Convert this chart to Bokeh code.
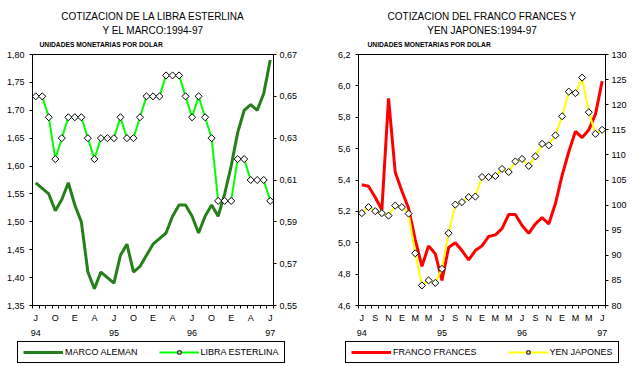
from bokeh.plotting import figure
from bokeh.models import (Range1d, LinearAxis, FixedTicker, CustomJSTickFormatter,
                          Legend, LegendItem, Title)
from bokeh.layouts import row, column
from bokeh.embed import file_html
from bokeh.resources import INLINE
import math

FONT = "Liberation Sans"

# ---- data (monthly, Jul-1994 .. Jul-1997) ----
month_idx = list(range(37))

marco = [1.57, 1.56, 1.55, 1.52, 1.54, 1.57, 1.53, 1.50, 1.41, 1.38,
         1.41, 1.40, 1.39, 1.44, 1.46, 1.41, 1.42, 1.44, 1.46, 1.47,
         1.48, 1.51, 1.53, 1.53, 1.51, 1.48, 1.51, 1.53, 1.51, 1.55,
         1.60, 1.66, 1.70, 1.71, 1.70, 1.73, 1.79]
libra = [0.65, 0.65, 0.64, 0.62, 0.63, 0.64, 0.64, 0.64, 0.63, 0.62,
         0.63, 0.63, 0.63, 0.64, 0.63, 0.63, 0.64, 0.65, 0.65, 0.65,
         0.66, 0.66, 0.66, 0.65, 0.64, 0.65, 0.64, 0.63, 0.60, 0.60,
         0.60, 0.62, 0.62, 0.61, 0.61, 0.61, 0.60]
franco = [5.37, 5.36, 5.29, 5.21, 5.92, 5.45, 5.33, 5.22, 5.02, 4.85,
          4.98, 4.93, 4.76, 4.97, 5.00, 4.95, 4.89, 4.95, 4.98, 5.04,
          5.05, 5.09, 5.18, 5.18, 5.11, 5.06, 5.12, 5.16, 5.12, 5.25,
          5.43, 5.58, 5.71, 5.67, 5.72, 5.82, 6.03]
yen = [98.4, 99.6, 98.8, 98.4, 97.9, 99.9, 99.6, 98.3, 90.4, 84.0,
       85.0, 84.5, 87.3, 94.4, 100.1, 100.6, 101.6, 101.7, 105.6, 105.6,
       105.8, 107.2, 106.6, 108.7, 109.2, 107.8, 109.7, 112.2, 111.9, 113.9,
       117.7, 122.6, 122.3, 125.4, 118.5, 114.2, 115.0]

left_month_labels = ["J", "O", "E", "A", "J", "O", "E", "A", "J", "O", "E", "A", "J"]
right_month_labels = ["J", "S", "N", "E", "M", "M", "J", "S", "N", "E", "M", "M",
                      "J", "S", "N", "E", "M", "M", "J"]
year_labels = ["94", "95", "96", "97"]

left_main_ticks = [1.35, 1.40, 1.45, 1.50, 1.55, 1.60, 1.65, 1.70, 1.75, 1.80]
left_sec_ticks = [0.55, 0.57, 0.59, 0.61, 0.63, 0.65, 0.67]
right_main_ticks = [4.6, 4.8, 5.0, 5.2, 5.4, 5.6, 5.8, 6.0, 6.2]
right_sec_ticks = [80, 85, 90, 95, 100, 105, 110, 115, 120, 125, 130]

subtitle = "UNIDADES MONETARIAS POR DOLAR"

MARCO_C, LIBRA_C, FRANCO_C, YEN_C = "#267f1a", "#00ff00", "#ff0000", "#ffff00"


def style_axis(ax, standoff):
    ax.axis_line_color = "black"
    ax.axis_line_width = 1
    ax.major_tick_line_color = "black"
    ax.minor_tick_line_color = "black"
    ax.major_label_text_font = FONT
    ax.major_label_text_font_size = "9px"
    ax.major_label_text_color = "black"
    ax.major_label_standoff = standoff


def add_series(p, s1, s2, c1, c2, sec=True):
    kw = dict(y_range_name="sec") if sec else {}
    r1 = p.line(month_idx, s1, line_color=c1, line_width=3)
    r2 = p.line(month_idx, s2, line_color=c2, line_width=2, **kw)
    r3 = p.scatter(month_idx, s2, marker="square", angle=math.pi / 4,
                   size=5, fill_color="white", line_color="black", line_width=1, **kw)
    return r1, r2, r3


def build(t1, t2, sub_offset, width, b_left, b_right, main_ticks, sec_ticks, dec1, dec2,
          month_labels, month_step, s1, s2, c1, c2, left_standoff):
    p = figure(width=width, height=340, output_backend="svg", toolbar_location=None,
               title_location=None, x_axis_type=None, y_axis_type=None,
               x_range=Range1d(-0.5, 36.5),
               y_range=Range1d(main_ticks[0], main_ticks[-1]),
               min_border_left=b_left, min_border_right=b_right,
               min_border_top=54, min_border_bottom=35)
    p.extra_y_ranges = {"sec": Range1d(sec_ticks[0], sec_ticks[-1])}
    p.outline_line_color = "black"
    p.outline_line_width = 1
    p.background_fill_color = "white"
    p.border_fill_color = "white"

    # titles (added from the frame outward); first one is a small spacer
    p.add_layout(Title(text=" ", text_font=FONT, text_font_size="3px", standoff=0), "above")
    p.add_layout(Title(text=subtitle, align="left", offset=sub_offset,
                       text_font=FONT, text_font_size="6.7px", text_font_style="bold",
                       text_color="black", standoff=4), "above")
    p.add_layout(Title(text=t2, align="center", text_font=FONT, text_font_size="10px",
                       text_font_style="normal", text_color="black", standoff=2), "above")
    p.add_layout(Title(text=t1, align="center", text_font=FONT, text_font_size="10px",
                       text_font_style="normal", text_color="black", standoff=0), "above")

    # y axes
    yl = LinearAxis(ticker=FixedTicker(ticks=main_ticks, minor_ticks=[]),
                    formatter=CustomJSTickFormatter(args=dict(d=dec1),
                                                    code="return tick.toFixed(d).replace('.', ',');"))
    style_axis(yl, left_standoff)
    yl.major_tick_in = 0
    yl.major_tick_out = 3
    p.add_layout(yl, "left")
    yr = LinearAxis(y_range_name="sec",
                    ticker=FixedTicker(ticks=sec_ticks, minor_ticks=[]),
                    formatter=CustomJSTickFormatter(args=dict(d=dec2),
                                                    code="return tick.toFixed(d).replace('.', ',');"))
    style_axis(yr, 3)
    yr.major_tick_in = 0
    yr.major_tick_out = 3
    p.add_layout(yr, "right")

    # x axes: month letters, then years
    n = len(month_idx)
    month_pos = [k * month_step for k in range(len(month_labels))]
    xm = LinearAxis(ticker=FixedTicker(ticks=month_pos,
                                       minor_ticks=[k - 0.5 for k in range(n + 1)]),
                    formatter=CustomJSTickFormatter(args=dict(labels=month_labels, step=month_step),
                                                    code="const i = Math.round(tick / step); return (i >= 0 && i < labels.length) ? labels[i] : '';"))
    style_axis(xm, 4)
    xm.major_tick_in = 0
    xm.major_tick_out = 0
    xm.minor_tick_in = 0
    xm.minor_tick_out = 3
    p.add_layout(xm, "below")

    year_pos = [k * 12 for k in range(len(year_labels))]
    xy = LinearAxis(ticker=FixedTicker(ticks=year_pos, minor_ticks=[]),
                    formatter=CustomJSTickFormatter(args=dict(labels=year_labels, step=12),
                                                    code="const i = Math.round(tick / step); return (i >= 0 && i < labels.length) ? labels[i] : '';"))
    style_axis(xy, 4)
    xy.axis_line_color = None
    xy.major_tick_in = 0
    xy.major_tick_out = 0
    xy.minor_tick_in = 0
    xy.minor_tick_out = 0
    p.add_layout(xy, "below")

    add_series(p, s1, s2, c1, c2)
    return p


def legend_fig(width, s1, s2, c1, c2, lab1, lab2, dx, spacing):
    # legend strip under each chart; its series sit outside the visible x range,
    # only their legend glyphs are shown
    q = figure(width=width, height=26, output_backend="svg", toolbar_location=None,
               title_location=None, x_axis_type=None, y_axis_type=None,
               x_range=Range1d(1000, 1001), y_range=Range1d(1000, 1001), min_border=0)
    q.outline_line_color = None
    q.background_fill_color = "white"
    q.border_fill_color = "white"
    r1, r2, r3 = add_series(q, s1, s2, c1, c2, sec=False)
    leg = Legend(items=[LegendItem(label=lab1, renderers=[r1]),
                        LegendItem(label=lab2, renderers=[r2, r3])],
                 orientation="horizontal", location=(dx, 3),
                 label_text_font=FONT, label_text_font_size="9px", label_text_color="black",
                 label_height=8, glyph_height=8, glyph_width=40, label_standoff=2,
                 spacing=spacing, padding=5, margin=0,
                 border_line_color="black", border_line_width=1, border_line_alpha=1,
                 background_fill_color="white", background_fill_alpha=1)
    q.add_layout(leg, "center")
    return q


p1 = build("COTIZACION DE LA LIBRA ESTERLINA", "Y EL MARCO:1994-97", 7, 318, 32, 45,
           left_main_ticks, left_sec_ticks, 2, 2, left_month_labels, 3,
           marco, libra, MARCO_C, LIBRA_C, 5)
p2 = build("COTIZACION DEL FRANCO FRANCES Y", "YEN JAPONES:1994-97", 9, 319, 40, 32,
           right_main_ticks, right_sec_ticks, 1, 0, right_month_labels, 2,
           franco, yen, FRANCO_C, YEN_C, 5)
l1 = legend_fig(318, marco, libra, MARCO_C, LIBRA_C, "MARCO ALEMAN", "LIBRA ESTERLINA", 17, 21)
l2 = legend_fig(319, franco, yen, FRANCO_C, YEN_C, "FRANCO FRANCES", "YEN JAPONES", 27, 31)

layout = column(row(p1, p2), row(l1, l2))
open("out.html", "w").write(file_html(layout, INLINE))
